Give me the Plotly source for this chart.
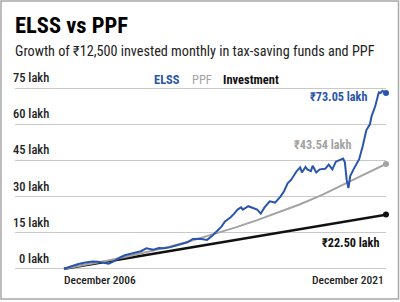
import plotly.graph_objects as go

# ---------------- data ----------------
elss_month = [0, 4, 8, 12, 16, 19, 22, 25, 28, 31, 34, 37, 40, 43, 46, 48, 50, 53, 56, 59,
              62, 65, 69, 72, 76, 80, 83, 86, 88, 90, 93, 95, 97, 99, 100, 103, 106, 108,
              110, 112, 115, 118, 121, 123, 125, 127, 130, 132, 133, 135, 136, 138, 139,
              141, 143, 146, 148, 150, 152, 154, 156, 157, 158, 159, 160, 162, 164, 165,
              167, 169, 171, 172, 174, 175, 176, 177, 178, 179, 180]
elss_value = [0, 1.0, 2.0, 2.6, 3.0, 2.9, 2.4, 2.1, 3.2, 4.6, 5.6, 6.2, 6.8, 7.3, 8.5, 8.2,
              7.9, 8.6, 8.5, 8.9, 9.5, 10.0, 11.0, 12.4, 12.5, 12.0, 13.8, 16.0, 17.5, 19.7,
              21.3, 22.8, 24.6, 25.5, 24.6, 26.0, 25.0, 24.6, 22.9, 25.4, 28.0, 27.5, 30.0,
              32.2, 35.5, 37.0, 40.5, 42.1, 40.0, 42.3, 41.3, 40.6, 42.8, 40.0, 41.3, 41.5,
              43.3, 41.3, 44.5, 45.3, 45.8, 44.2, 37.0, 33.5, 38.5, 41.5, 44.3, 45.5, 51.0,
              57.5, 60.0, 63.5, 67.6, 71.0, 73.3, 73.0, 73.9, 73.4, 73.05]

ppf_month = [0, 12, 24, 36, 48, 60, 72, 84, 96, 108, 120, 132, 144, 156, 168, 180]
ppf_value = [0, 1.6, 3.3, 5.2, 7.2, 9.4, 11.8, 14.4, 17.2, 20.2, 23.4, 26.8, 30.6, 34.8, 39.1, 43.54]

inv_month = [0, 12, 24, 36, 48, 60, 72, 84, 96, 108, 120, 132, 144, 156, 168, 180]
inv_value = [0, 1.5, 3.0, 4.5, 6.0, 7.5, 9.0, 10.5, 12.0, 13.5, 15.0, 16.5, 18.0, 19.5, 21.0, 22.5]

y_ticks = [0, 15, 30, 45, 60, 75]
y_tick_labels = ["0 lakh", "15 lakh", "30 lakh", "45 lakh", "60 lakh", "75 lakh"]
x_tick_labels = ["December 2006", "December 2021"]

title = "ELSS vs PPF"
subtitle = "Growth of ₹12,500 invested monthly in tax-saving funds and PPF"
end_labels = ["₹73.05 lakh", "₹43.54 lakh", "₹22.50 lakh"]

BLUE = "#2a55ad"
GRAY = "#a3a3a3"
BLACK = "#111111"
FONT = "Roboto Condensed, Roboto, sans-serif"

# ---------------- layout geometry ----------------
W, H = 400, 302
ML, MR, MT, MB = 15, 14, 87, 32
PW = W - ML - MR
PH = H - MT - MB


def px(xp):
    return (xp - ML) / PW


def py(yp):
    return (H - MB - yp) / PH


fig = go.Figure()

fig.add_trace(go.Scatter(x=inv_month, y=inv_value, mode="lines",
                         line=dict(color=BLACK, width=2.5), hoverinfo="skip", cliponaxis=False))
fig.add_trace(go.Scatter(x=ppf_month, y=ppf_value, mode="lines",
                         line=dict(color=GRAY, width=2), hoverinfo="skip", cliponaxis=False))
fig.add_trace(go.Scatter(x=elss_month, y=elss_value, mode="lines",
                         line=dict(color=BLUE, width=2), hoverinfo="skip", cliponaxis=False))

# end markers
fig.add_trace(go.Scatter(x=[inv_month[-1]], y=[inv_value[-1]], mode="markers",
                         marker=dict(color=BLACK, size=6), cliponaxis=False, hoverinfo="skip"))
fig.add_trace(go.Scatter(x=[ppf_month[-1]], y=[ppf_value[-1]], mode="markers",
                         marker=dict(color=GRAY, size=6), cliponaxis=False, hoverinfo="skip"))
fig.add_trace(go.Scatter(x=[elss_month[-1]], y=[elss_value[-1]], mode="markers",
                         marker=dict(color=BLUE, size=6), cliponaxis=False, hoverinfo="skip"))

ann = []
# title / subtitle
ann.append(dict(text=f"<b>{title}</b>", xref="paper", yref="paper", x=px(13), y=py(25),
                xanchor="left", yanchor="middle", showarrow=False,
                font=dict(family=FONT, size=22.5, color="#000")))
ann.append(dict(text=subtitle, xref="paper", yref="paper", x=px(13), y=py(51),
                xanchor="left", yanchor="middle", showarrow=False,
                font=dict(family=FONT, size=14.2, color="#222")))
# y tick labels above gridlines
for v, t in zip(y_ticks, y_tick_labels):
    ann.append(dict(text=t, xref="paper", yref="y", x=px(51), y=v, yshift=1,
                    xanchor="right", yanchor="bottom", showarrow=False,
                    font=dict(family=FONT, size=12.5, color="#222", weight=500)))
# legend
ann.append(dict(text="<b>ELSS</b>", xref="paper", yref="paper", x=px(152), y=py(80),
                xanchor="left", yanchor="middle", showarrow=False,
                font=dict(family=FONT, size=12.5, color=BLUE)))
ann.append(dict(text="PPF", xref="paper", yref="paper", x=px(190), y=py(80),
                xanchor="left", yanchor="middle", showarrow=False,
                font=dict(family=FONT, size=12.5, color=GRAY)))
ann.append(dict(text="<b>Investment</b>", xref="paper", yref="paper", x=px(221), y=py(80),
                xanchor="left", yanchor="middle", showarrow=False,
                font=dict(family=FONT, size=12.5, color=BLACK)))
# x labels
ann.append(dict(text=x_tick_labels[0], xref="x", yref="paper", x=inv_month[0], y=py(280),
                xanchor="left", yanchor="middle", xshift=-2, showarrow=False,
                font=dict(family=FONT, size=11.5, color="#222", weight=500)))
ann.append(dict(text=x_tick_labels[1], xref="x", yref="paper", x=inv_month[-1], y=py(280),
                xanchor="right", yanchor="middle", showarrow=False,
                font=dict(family=FONT, size=11.5, color="#222", weight=500)))
# end labels
ann.append(dict(text=f"<b>{end_labels[0]}</b>", xref="paper", yref="paper", x=px(369), y=py(97),
                xanchor="right", yanchor="middle", showarrow=False,
                font=dict(family=FONT, size=12.2, color=BLUE)))
ann.append(dict(text=f"<b>{end_labels[1]}</b>", xref="paper", yref="paper", x=px(353), y=py(145),
                xanchor="right", yanchor="middle", showarrow=False,
                font=dict(family=FONT, size=12.2, color=GRAY)))
ann.append(dict(text=f"<b>{end_labels[2]}</b>", xref="paper", yref="paper", x=px(381), y=py(243),
                xanchor="right", yanchor="middle", showarrow=False,
                font=dict(family=FONT, size=12.2, color=BLACK)))

shapes = [dict(type="rect", xref="paper", yref="paper", x0=px(1), x1=px(398.5), y0=py(299), y1=py(1),
               line=dict(color="#a8a8a8", width=1.5), layer="above")]

fig.update_layout(
    width=W, height=H,
    margin=dict(l=ML, r=MR, t=MT, b=MB, autoexpand=False),
    paper_bgcolor="white", plot_bgcolor="white",
    showlegend=False,
    annotations=ann, shapes=shapes,
    xaxis=dict(range=[-27.4, 180], showgrid=False, zeroline=False, showticklabels=False,
               showline=False, fixedrange=True),
    yaxis=dict(range=[-0.5, 75.5], tickvals=y_ticks, showgrid=True, gridcolor="#c9c9c9",
               gridwidth=1, zeroline=False, showticklabels=False, showline=False, fixedrange=True),
)

fig.write_html("out.html", config={"displayModeBar": False})
